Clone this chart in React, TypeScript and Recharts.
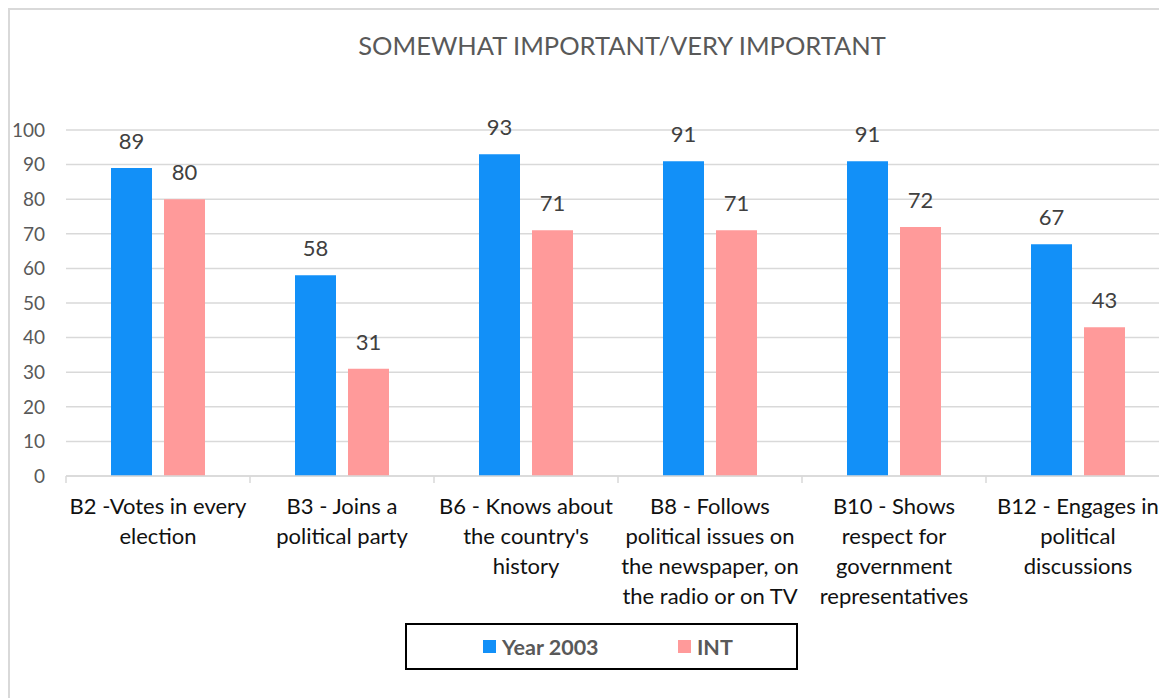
import React from "react";
import { BarChart, Bar, XAxis, YAxis, CartesianGrid, Legend, LabelList } from "recharts";

const categories = ["B2", "B3", "B6", "B8", "B10", "B12"];
const categoryLines = [
  ["B2 -Votes in every", "election"],
  ["B3 - Joins a", "political party"],
  ["B6 - Knows about", "the country's", "history"],
  ["B8 - Follows", "political issues on", "the newspaper, on", "the radio or on TV"],
  ["B10 - Shows", "respect for", "government", "representatives"],
  ["B12 - Engages in", "political", "discussions"],
];
const year2003 = [89, 58, 93, 91, 91, 67];
const intValues = [80, 31, 71, 71, 72, 43];
const yTicks = [0, 10, 20, 30, 40, 50, 60, 70, 80, 90, 100];

const BLUE = "#1290F8";
const PINK = "#FF9A9A";
const FONT = "Lato, 'Open Sans', sans-serif";

const CHART_W = 1160;
const CHART_H = 680;
const Y_AXIS_W = 56;
const BAND = (CHART_W - Y_AXIS_W) / categories.length;

const data = categories.map((c, i) => ({
  name: c,
  y2003: year2003[i],
  int: intValues[i],
}));

function CategoryTick(props: any) {
  const { x, y, payload, index } = props;
  const lines = categoryLines[index] || [payload.value];
  const axisY = y - 8;
  return (
    <g>
      <line x1={x - BAND / 2} x2={x - BAND / 2} y1={axisY} y2={axisY + 7} stroke="#d9d9d9" strokeWidth={1.5} />
      {index === categories.length - 1 && (
        <line x1={x + BAND / 2} x2={x + BAND / 2} y1={axisY} y2={axisY + 7} stroke="#d9d9d9" strokeWidth={1.5} />
      )}
      <text x={x} y={y} textAnchor="middle" fill="#111" fontSize={22} fontFamily={FONT}>
        {lines.map((l: string, i: number) => (
          <tspan key={i} x={x} dy={i === 0 ? 30 : 30}>
            {l}
          </tspan>
        ))}
      </text>
    </g>
  );
}

function LegendBox() {
  const item = (color: string, label: string, left: number) => (
    <div style={{ position: "absolute", left, top: 0, height: "100%", display: "flex", alignItems: "center" }}>
      <span style={{ width: 13, height: 13, background: color, display: "inline-block", marginRight: 6 }} />
      <span style={{ fontWeight: 700, color: "#595959", fontSize: 21.5, fontFamily: FONT }}>{label}</span>
    </div>
  );
  return (
    <div style={{ position: "relative", width: 389, height: 43, border: "2px solid #000", background: "#fff" }}>
      {item(BLUE, "Year 2003", 76)}
      {item(PINK, "INT", 271)}
    </div>
  );
}

export default function App() {
  return (
    <div style={{ width: 1159, height: 690, overflow: "hidden", position: "relative" }}>
      <div
        style={{
          position: "absolute",
          left: 0,
          top: 0,
          width: 1170,
          height: 700,
          border: "2px solid #d9d9d9",
          background: "#fff",
        }}
      >
        <div
          style={{
            position: "absolute",
            left: 0,
            width: 1224,
            top: 20,
            textAlign: "center",
            fontFamily: FONT,
            fontSize: 25.5,
            color: "#595959",
          }}
        >
          SOMEWHAT IMPORTANT/VERY IMPORTANT
        </div>
        <div style={{ position: "absolute", left: 0, top: 0 }}>
          <BarChart
            width={CHART_W}
            height={CHART_H}
            data={data}
            margin={{ top: 120, right: 0, left: 0, bottom: 64 }}
            barSize={41}
            barGap={12}
          >
            <CartesianGrid vertical={false} stroke="#d9d9d9" strokeWidth={1.5} />
            <XAxis
              dataKey="name"
              height={150}
              interval={0}
              tickLine={false}
              axisLine={{ stroke: "#d9d9d9", strokeWidth: 1.5 }}
              tick={<CategoryTick />}
            />
            <YAxis
              width={Y_AXIS_W}
              domain={[0, 100]}
              ticks={yTicks}
              interval={0}
              axisLine={false}
              tickLine={false}
              tickMargin={15}
              tick={{ fill: "#595959", fontSize: 19, fontFamily: FONT }}
            />
            <Legend
              layout="horizontal"
              verticalAlign="middle"
              align="center"
              content={() => <LegendBox />}
              wrapperStyle={{ position: "absolute", left: 395, top: 613, width: "auto" }}
            />
            <Bar dataKey="y2003" name="Year 2003" fill={BLUE} isAnimationActive={false}>
              <LabelList dataKey="y2003" position="top" offset={19} fill="#404040" fontSize={22} fontFamily={FONT} />
            </Bar>
            <Bar dataKey="int" name="INT" fill={PINK} isAnimationActive={false}>
              <LabelList dataKey="int" position="top" offset={19} fill="#404040" fontSize={22} fontFamily={FONT} />
            </Bar>
          </BarChart>
        </div>
      </div>
    </div>
  );
}
